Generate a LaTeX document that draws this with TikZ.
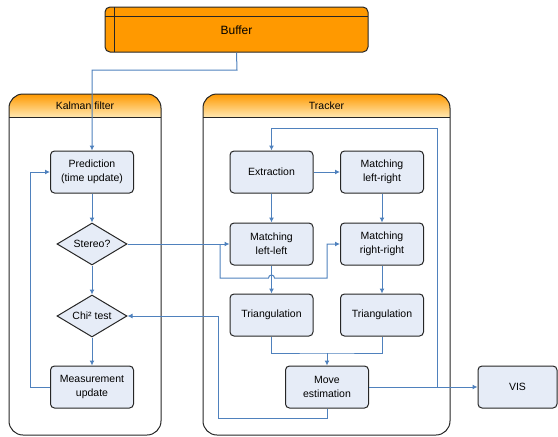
\documentclass[tikz,border=0pt]{standalone}
\usepackage{fontspec}
\setmainfont{Liberation Sans}
\usetikzlibrary{shapes.geometric,arrows.meta}

\definecolor{flowblue}{HTML}{4F81BD}
\definecolor{boxfill}{HTML}{E6ECF7}
\definecolor{bufferorange}{HTML}{FF9900}
\definecolor{laneend}{HTML}{FFE7B0}

\tikzset{
    stepbox/.style={draw=black!85, fill=boxfill, rounded corners=4pt, line width=1pt,
        minimum width=83pt, minimum height=42pt, align=center,
        font=\fontsize{10.5}{14}\selectfont},
    decision/.style={diamond, draw=black!85, fill=boxfill, line width=1pt,
        minimum width=70pt, minimum height=42pt, inner sep=0pt, aspect=1.67,
        font=\fontsize{10.5}{14}\selectfont},
    flow/.style={draw=flowblue, line width=1pt, -{Latex[length=5pt,width=5pt]}},
    flowline/.style={draw=flowblue, line width=1pt},
    lane/.style={draw=black!85, line width=1pt, rounded corners=14pt},
    lanehead/.style={top color=bufferorange, bottom color=laneend},
}

\begin{document}
\begin{tikzpicture}[x=1pt, y=-1pt]
    \useasboundingbox (0,0) rectangle (558,437);

    % Buffer oben
    \draw[draw=black!85, fill=bufferorange, line width=1pt, rounded corners=5pt]
        (105,7) rectangle (368,52);
    \draw[black!85, line width=1pt] (114,7) -- (114,52);
    \draw[black!85, line width=1pt] (105,16) -- (368,16);
    \node (buffer) at (236.5,30) [minimum width=263pt, minimum height=45pt,
        font=\fontsize{12}{14}\selectfont] {Buffer};

    % Swimlanes
    \begin{scope}
        \clip[rounded corners=14pt] (9,94) rectangle (161,435);
        \fill[lanehead] (9,94) rectangle (161,117);
    \end{scope}
    \begin{scope}
        \clip[rounded corners=14pt] (203,94) rectangle (450,435);
        \fill[lanehead] (203,94) rectangle (450,117);
    \end{scope}
    \draw[lane] (9,94) rectangle (161,435);
    \draw[lane] (203,94) rectangle (450,435);
    \draw[black!85, line width=1pt] (9,117) -- (161,117);
    \draw[black!85, line width=1pt] (203,117) -- (450,117);
    \node (kalman) at (85,106) [font=\fontsize{10.5}{12}\selectfont] {Kalman filter};
    \node (tracker) at (326.5,106) [font=\fontsize{10.5}{12}\selectfont] {Tracker};

    % Kalman filter
    \node[stepbox] (pred) at (92,172) {Prediction\\(time update)};
    \node[decision] (stereo) at (92,244) {Stereo?};
    \node[decision] (chi) at (92,316) {Chi² test};
    \node[stepbox] (meas) at (92,387) {Measurement\\update};

    % Tracker
    \node[stepbox] (ext) at (271.5,172) {Extraction};
    \node[stepbox] (mlr) at (382,172) {Matching\\left-right};
    \node[stepbox] (mll) at (271.5,244) {Matching\\left-left};
    \node[stepbox] (mrr) at (382,244) {Matching\\right-right};
    \node[stepbox] (tri1) at (271.5,315) {Triangulation};
    \node[stepbox] (tri2) at (382,315) {Triangulation};
    \node[stepbox] (move) at (327,387) {Move\\estimation};
    \node[stepbox, minimum width=79pt] (vis) at (517.5,387) {VIS};

    \coordinate (split) at (220,244);
    \coordinate (merge) at (327,353);
    \coordinate (branch) at (437,387);

    % Verbindungen Kalman filter
    \draw[flow] (buffer.south) -- (237,70) -| (pred.north);
    \draw[flow] (pred) -- (stereo);
    \draw[flow] (stereo) -- (chi);
    \draw[flow] (chi) -- (meas);
    \draw[flow] (meas.west) -- (30,387) |- (pred.west);

    % Verbindungen Tracker
    \draw[flowline] (stereo.east) -- (split);
    \draw[flow] (split) -- (mll.west);
    \draw[flow] (split) -- (220,278) -- (268.5,278) arc[start angle=180, end angle=0, radius=3pt]
        -- (327,278) |- (mrr.west); % Sprung ueber die Linie
    \draw[flow] (ext) -- (mlr);
    \draw[flow] (ext) -- (mll);
    \draw[flow] (mlr) -- (mrr);
    \draw[flow] (mll) -- (tri1);
    \draw[flow] (mrr) -- (tri2);
    \draw[flowline] (tri1.south) |- (merge) -| (tri2.south);
    \draw[flow] (merge) -- (move.north);
    \draw[flow] (move.east) -- (vis.west);
    \draw[flow] (branch) -- (437,128) -| (ext.north);
    \draw[flow] (move.south) -- (327,418) -| (218,316) -- (chi.east);
\end{tikzpicture}
\end{document}
